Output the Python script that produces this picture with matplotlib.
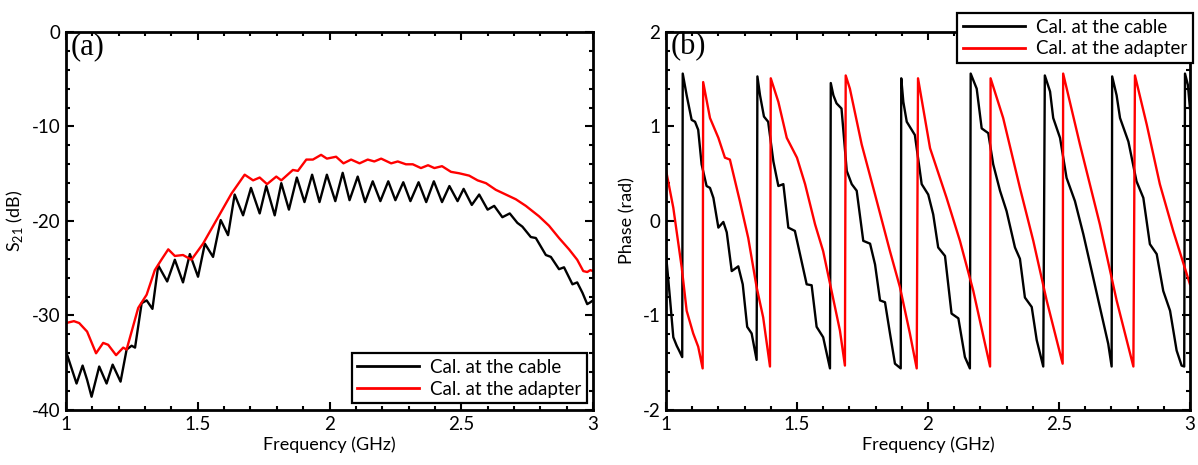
import matplotlib
matplotlib.use("Agg")
import matplotlib.pyplot as plt
from matplotlib.ticker import MultipleLocator

# |S21| in dB, calibrated at the cable end vs at the adapter
s21_cable_f = [1.000, 1.020, 1.040, 1.063, 1.080, 1.097, 1.126, 1.154, 1.177, 1.207,
               1.230, 1.249, 1.262, 1.287, 1.306, 1.328, 1.350, 1.384, 1.413, 1.444,
               1.470, 1.501, 1.527, 1.558, 1.587, 1.615, 1.640, 1.672, 1.702, 1.735,
               1.760, 1.792, 1.817, 1.846, 1.876, 1.905, 1.934, 1.962, 1.990, 2.022,
               2.050, 2.076, 2.107, 2.135, 2.164, 2.193, 2.223, 2.250, 2.280, 2.307,
               2.338, 2.367, 2.396, 2.427, 2.455, 2.486, 2.509, 2.540, 2.568, 2.600,
               2.625, 2.656, 2.684, 2.713, 2.732, 2.764, 2.783, 2.821, 2.840, 2.871,
               2.890, 2.922, 2.940, 2.960, 2.978, 2.990, 3.000]
s21_cable_db = [-33.8, -35.5, -37.2, -35.3, -36.8, -38.6, -35.4, -37.2, -35.2, -37.0,
                -33.6, -33.2, -33.4, -28.7, -28.4, -29.3, -24.7, -26.4, -24.1, -26.5,
                -23.5, -25.9, -22.4, -23.8, -19.9, -21.5, -17.2, -19.4, -16.5, -19.2,
                -16.3, -19.4, -16.0, -18.8, -15.4, -18.0, -15.1, -18.0, -15.1, -17.9,
                -14.9, -17.8, -15.3, -18.0, -15.8, -17.9, -15.8, -17.8, -15.9, -17.9,
                -15.9, -18.0, -15.8, -18.0, -16.3, -17.9, -16.6, -18.3, -17.2, -18.8,
                -18.4, -19.6, -19.2, -20.2, -20.6, -21.7, -21.8, -23.6, -23.8, -25.1,
                -24.9, -26.7, -26.5, -27.6, -28.8, -28.6, -28.4]

s21_adapter_f = [1.000, 1.030, 1.050, 1.080, 1.114, 1.141, 1.160, 1.190, 1.217, 1.230,
                 1.274, 1.306, 1.337, 1.362, 1.388, 1.413, 1.444, 1.476, 1.520, 1.571,
                 1.628, 1.678, 1.710, 1.735, 1.763, 1.798, 1.817, 1.861, 1.880, 1.912,
                 1.937, 1.968, 1.990, 2.025, 2.053, 2.082, 2.114, 2.145, 2.170, 2.196,
                 2.234, 2.259, 2.290, 2.316, 2.347, 2.374, 2.398, 2.427, 2.461, 2.492,
                 2.530, 2.562, 2.594, 2.631, 2.669, 2.707, 2.745, 2.795, 2.833, 2.871,
                 2.909, 2.940, 2.963, 2.978, 2.990, 3.000]
s21_adapter_db = [-30.8, -30.6, -30.8, -31.7, -34.0, -32.9, -33.1, -34.2, -33.4, -33.6,
                  -29.2, -27.8, -25.2, -24.1, -23.0, -23.7, -23.6, -24.1, -22.4, -19.9,
                  -17.1, -15.1, -15.7, -15.4, -16.1, -15.3, -15.7, -14.6, -14.7, -13.5,
                  -13.5, -13.0, -13.4, -13.2, -13.9, -13.5, -13.9, -13.5, -13.7, -13.4,
                  -13.9, -13.7, -14.0, -14.0, -14.4, -14.1, -14.4, -14.2, -14.8, -14.95,
                  -15.2, -15.7, -16.0, -16.7, -17.2, -17.7, -18.4, -19.5, -20.5, -21.8,
                  -23.0, -24.1, -25.3, -25.4, -25.2, -25.3]

# wrapped phase of S21 (rad)
ph_cable_f = [1.000, 1.015, 1.028, 1.041, 1.050, 1.062, 1.064, 1.079, 1.098, 1.111,
              1.123, 1.136, 1.155, 1.168, 1.181, 1.200, 1.219, 1.232, 1.251, 1.276,
              1.293, 1.310, 1.327, 1.346, 1.349, 1.359, 1.374, 1.390, 1.410, 1.429,
              1.448, 1.467, 1.492, 1.537, 1.556, 1.575, 1.600, 1.626, 1.629, 1.639,
              1.651, 1.670, 1.690, 1.709, 1.728, 1.753, 1.779, 1.798, 1.817, 1.836,
              1.855, 1.874, 1.896, 1.898, 1.906, 1.919, 1.950, 1.976, 2.001, 2.020,
              2.039, 2.065, 2.090, 2.116, 2.141, 2.160, 2.163, 2.186, 2.205, 2.230,
              2.249, 2.275, 2.300, 2.332, 2.351, 2.370, 2.396, 2.415, 2.440, 2.446,
              2.466, 2.478, 2.504, 2.529, 2.561, 2.593, 2.625, 2.656, 2.688, 2.701,
              2.703, 2.720, 2.733, 2.765, 2.796, 2.822, 2.847, 2.873, 2.898, 2.924,
              2.949, 2.968, 2.978, 2.981, 2.992, 3.000]
ph_cable_rad = [-0.35, -0.81, -1.23, -1.32, -1.37, -1.44, 1.56, 1.33, 1.07, 1.05,
                0.965, 0.60, 0.37, 0.35, 0.245, -0.07, -0.01, -0.12, -0.53, -0.48,
                -0.67, -1.12, -1.19, -1.47, 1.53, 1.33, 1.105, 1.05, 0.63, 0.37,
                0.39, -0.07, -0.105, -0.67, -0.68, -1.12, -1.23, -1.56, 1.46, 1.33,
                1.245, 1.19, 0.53, 0.39, 0.32, -0.21, -0.24, -0.46, -0.84, -0.86,
                -1.19, -1.51, -1.56, 1.51, 1.26, 1.05, 0.91, 0.39, 0.28, 0.07,
                -0.28, -0.37, -0.98, -1.03, -1.44, -1.56, 1.56, 1.40, 0.98, 0.93,
                0.60, 0.32, 0.105, -0.28, -0.40, -0.81, -0.91, -1.26, -1.54, 1.54,
                1.37, 1.09, 0.88, 0.456, 0.21, -0.14, -0.53, -0.91, -1.30, -1.54,
                1.53, 1.33, 1.09, 0.84, 0.42, 0.245, -0.245, -0.35, -0.74, -0.95,
                -1.37, -1.53, -1.54, 1.56, 1.44, 1.19]

ph_adapter_f = [1.000, 1.028, 1.060, 1.079, 1.104, 1.123, 1.140, 1.142, 1.168, 1.200,
                1.225, 1.244, 1.282, 1.314, 1.346, 1.371, 1.397, 1.400, 1.429, 1.461,
                1.500, 1.531, 1.569, 1.600, 1.632, 1.664, 1.683, 1.686, 1.702, 1.715,
                1.747, 1.798, 1.855, 1.893, 1.931, 1.957, 1.962, 2.008, 2.071, 2.122,
                2.173, 2.237, 2.239, 2.287, 2.351, 2.402, 2.453, 2.514, 2.516, 2.580,
                2.656, 2.720, 2.784, 2.790, 2.835, 2.885, 2.936, 3.000]
ph_adapter_rad = [0.54, 0.14, -0.49, -0.95, -1.19, -1.33, -1.56, 1.47, 1.09, 0.88,
                  0.67, 0.65, 0.21, -0.18, -0.70, -1.02, -1.54, 1.51, 1.26, 0.88,
                  0.67, 0.39, -0.035, -0.32, -0.74, -1.16, -1.53, 1.54, 1.40, 1.23,
                  0.81, 0.28, -0.32, -0.70, -1.19, -1.56, 1.51, 0.77, 0.245, -0.21,
                  -0.74, -1.54, 1.51, 1.09, 0.35, -0.21, -0.84, -1.51, 1.56, 0.81,
                  -0.035, -0.84, -1.54, 1.54, 1.02, 0.39, -0.105, -0.67]

LABELS = ["Cal. at the cable", "Cal. at the adapter"]

plt.rcParams["font.family"] = ["Lato", "DejaVu Sans"]
plt.rcParams["axes.unicode_minus"] = False
plt.rcParams["mathtext.fontset"] = "custom"
plt.rcParams["mathtext.rm"] = "Lato"

FS = 13.5


def style_axis(ax, ymaj, ymin):
    ax.xaxis.set_major_locator(MultipleLocator(0.5))
    ax.xaxis.set_minor_locator(MultipleLocator(0.1))
    ax.yaxis.set_major_locator(MultipleLocator(ymaj))
    ax.yaxis.set_minor_locator(MultipleLocator(ymin))
    ax.xaxis.set_major_formatter(lambda v, p: f"{v:g}")
    ax.tick_params(which="both", direction="in", top=True, right=True,
                   width=1.5, labelsize=FS, pad=4)
    ax.tick_params(which="major", length=5.5)
    ax.tick_params(which="minor", length=3)
    for s in ax.spines.values():
        s.set_linewidth(2.0)
    ax.set_xlim(1, 3)
    ax.set_xlabel("Frequency (GHz)", fontsize=13, labelpad=3)


def add_legend(ax, anchor, loc):
    leg = ax.legend(loc=loc, bbox_to_anchor=anchor, borderaxespad=0,
                    fancybox=False, framealpha=1, edgecolor="black", fontsize=FS,
                    handlelength=3.3, handletextpad=0.6, borderpad=0.3,
                    labelspacing=0.25)
    leg.get_frame().set_linewidth(1.6)
    for ln in leg.get_lines():
        ln.set_linewidth(2.0)
    return leg


fig = plt.figure(figsize=(11.98, 4.65), dpi=100)
ax1 = fig.add_axes([0.0551, 0.1183, 0.4399, 0.8129])
ax2 = fig.add_axes([0.5559, 0.1183, 0.4374, 0.8129])

# (a) magnitude
ax1.plot(s21_cable_f, s21_cable_db, color="black", lw=1.7, label=LABELS[0])
ax1.plot(s21_adapter_f, s21_adapter_db, color="#ff0000", lw=1.7, label=LABELS[1])
style_axis(ax1, 10, 2)
ax1.set_ylim(-40, 0)
ax1.set_ylabel("S$_{21}$ (dB)", fontsize=13, labelpad=5)
ax1.text(0.008, 1.0, "(a)", transform=ax1.transAxes, ha="left", va="top",
         fontsize=22, family="Liberation Serif")
add_legend(ax1, (0.989, 0.018), "lower right")

# (b) phase
ax2.plot(ph_cable_f, ph_cable_rad, color="black", lw=1.7, label=LABELS[0])
ax2.plot(ph_adapter_f, ph_adapter_rad, color="#ff0000", lw=1.7, label=LABELS[1])
style_axis(ax2, 1, 0.2)
ax2.set_ylim(-2, 2)
ax2.set_ylabel("Phase (rad)", fontsize=13, labelpad=5)
ax2.text(0.008, 1.0, "(b)", transform=ax2.transAxes, ha="left", va="top",
         fontsize=22, family="Liberation Serif")
leg2 = add_legend(ax2, (1.006, 1.05), "upper right")
leg2.set_zorder(5)

fig.savefig("out.png", dpi=100)
